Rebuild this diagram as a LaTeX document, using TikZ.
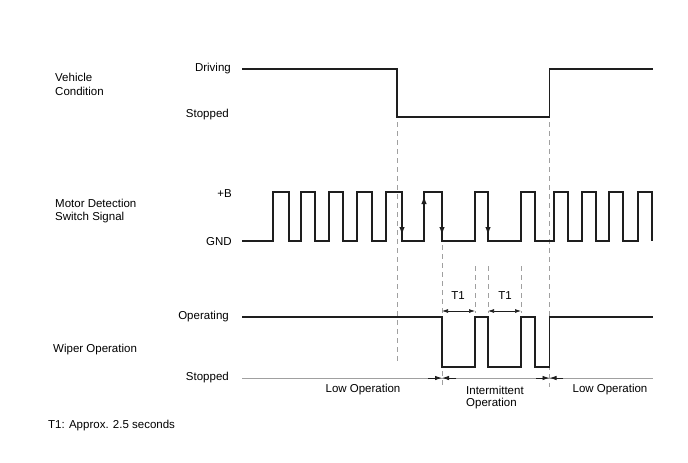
\documentclass[tikz,border=0pt]{standalone}
\usepackage{fontspec}
\setmainfont{Liberation Sans}
\usetikzlibrary{arrows.meta}
\definecolor{sigline}{HTML}{1E1E1E}
\definecolor{guideline}{HTML}{A0A0A0}
\tikzset{wave/.style={line width=1.4pt, draw=sigline, line join=miter}}
\tikzset{guide/.style={line width=0.9pt, draw=guideline, dash pattern=on 5pt off 4pt}}
\tikzset{txt/.style={inner sep=0pt, font=\fontsize{11.5}{13.8}\selectfont}}
\tikzset{sigtip/.style={-{Latex[length=8pt,width=5.5pt]}, line width=1.4pt, draw=sigline, fill=sigline}}
\tikzset{dimtip/.style={-{Latex[length=7pt,width=4.5pt]}, line width=0.9pt, draw=sigline, fill=sigline}}
\begin{document}
\begin{tikzpicture}[x=1pt, y=-1pt]
    \useasboundingbox (0,0) rectangle (688,463);
    \newcommand\posStop{397}
    \newcommand\posInt{442}
    \newcommand\posGo{549.5}
    \newcommand\posTa{475}
    \newcommand\posTb{488}
    \newcommand\posTc{521}
    \newcommand\posTd{535}
    \newcommand\yDrive{69}
    \newcommand\yHalt{117}
    \newcommand\yHigh{192}
    \newcommand\yLow{241}
    \newcommand\yOn{317}
    \newcommand\yOff{367}
    \newcommand\yAxis{378}

    \draw[guide] (\posStop, 122) -- (\posStop, 362);
    \draw[guide] (\posGo, 122) -- (\posGo, 387);
    \draw[guide] (\posInt, 245) -- (\posInt, 388);
    \draw[guide] (\posTa, 266) -- (\posTa, 313);
    \draw[guide] (\posTb, 266) -- (\posTb, 313);
    \draw[guide] (\posTc, 266) -- (\posTc, 313);

    \node[txt, anchor=west] (vehA) at (55, 77){Vehicle};
    \node[txt, anchor=west] (vehB) at (55, 91){Condition};
    \node[txt, anchor=east] (drive) at (231, 69){Driving};
    \node[txt, anchor=east] (halt) at (229, 115){Stopped};
    \draw[wave] (242, \yDrive) -- (\posStop, \yDrive) -- (\posStop, \yHalt) -- (\posGo, \yHalt) -- (\posGo, \yDrive) -- (653, \yDrive);

    \node[txt, anchor=west] (motA) at (55, 203){Motor Detection};
    \node[txt, anchor=west] (motB) at (55, 218){Switch Signal};
    \node[txt, anchor=east] (high) at (232, 194){+B};
    \node[txt, anchor=east] (low) at (232, 242){GND};
    \draw[wave] (242, \yLow) -- (273, \yLow)
        -- (273, \yHigh) -- (289, \yHigh) -- (289, \yLow) -- (301, \yLow)
        -- (301, \yHigh) -- (315, \yHigh) -- (315, \yLow) -- (329, \yLow)
        -- (329, \yHigh) -- (343, \yHigh) -- (343, \yLow) -- (357, \yLow)
        -- (357, \yHigh) -- (372, \yHigh) -- (372, \yLow) -- (386, \yLow)
        -- (386, \yHigh) -- (402, \yHigh) -- (402, \yLow) -- (424, \yLow)
        -- (424, \yHigh) -- (\posInt, \yHigh) -- (\posInt, \yLow) -- (\posTa, \yLow)
        -- (\posTa, \yHigh) -- (\posTb, \yHigh) -- (\posTb, \yLow) -- (\posTc, \yLow)
        -- (\posTc, \yHigh) -- (\posTd, \yHigh) -- (\posTd, \yLow) -- (554, \yLow)
        -- (554, \yHigh) -- (568, \yHigh) -- (568, \yLow) -- (582, \yLow)
        -- (582, \yHigh) -- (596, \yHigh) -- (596, \yLow) -- (609, \yLow)
        -- (609, \yHigh) -- (623, \yHigh) -- (623, \yLow) -- (638, \yLow)
        -- (638, \yHigh) -- (652, \yHigh) -- (652, \yLow);
    \draw[sigtip] (402, 200) -- (402, 235);
    \draw[sigtip] (424, 233) -- (424, 196);
    \draw[sigtip] (\posInt, 200) -- (\posInt, 235);
    \draw[sigtip] (\posTb, 200) -- (\posTb, 235);

    \node[txt, anchor=west] (wip) at (53, 350){Wiper Operation};
    \node[txt, anchor=east] (on) at (229, 317){Operating};
    \node[txt, anchor=east] (off) at (229, 378){Stopped};
    \draw[wave] (242, \yOn) -- (\posInt, \yOn) -- (\posInt, \yOff) -- (\posTa, \yOff) -- (\posTa, \yOn)
        -- (\posTb, \yOn) -- (\posTb, \yOff) -- (\posTc, \yOff) -- (\posTc, \yOn)
        -- (\posTd, \yOn) -- (\posTd, \yOff) -- (\posGo, \yOff) -- (\posGo, \yOn) -- (653, \yOn);

    \draw[dimtip, line width=0.7pt, {Latex[length=6pt,width=4pt]}-{Latex[length=6pt,width=4pt]}] (\posInt, 311) -- (\posTa, 311);
    \draw[dimtip, line width=0.7pt, {Latex[length=6pt,width=4pt]}-{Latex[length=6pt,width=4pt]}] (\posTb, 311) -- (\posTc, 311);
    \node[txt] (tone) at (458, 296){T1};
    \node[txt] (ttwo) at (505, 296){T1};

    \draw[line width=0.9pt, draw=guideline] (242, \yAxis) -- (653, \yAxis);
    \draw[dimtip] (428, \yAxis) -- (\posInt, \yAxis);
    \draw[dimtip] (456, \yAxis) -- (\posInt, \yAxis);
    \draw[dimtip] (536, \yAxis) -- (\posGo, \yAxis);
    \draw[dimtip] (563, \yAxis) -- (\posGo, \yAxis);
    \node[txt] (lowA) at (363, 390){Low Operation};
    \node[txt, anchor=west] (intA) at (466, 390){Intermittent};
    \node[txt, anchor=west] (intB) at (466, 404){Operation};
    \node[txt] (lowB) at (610, 390){Low Operation};

    \node[txt, anchor=west] (note) at (48, 426){T1: Approx. 2.5 seconds};
\end{tikzpicture}
\end{document}
